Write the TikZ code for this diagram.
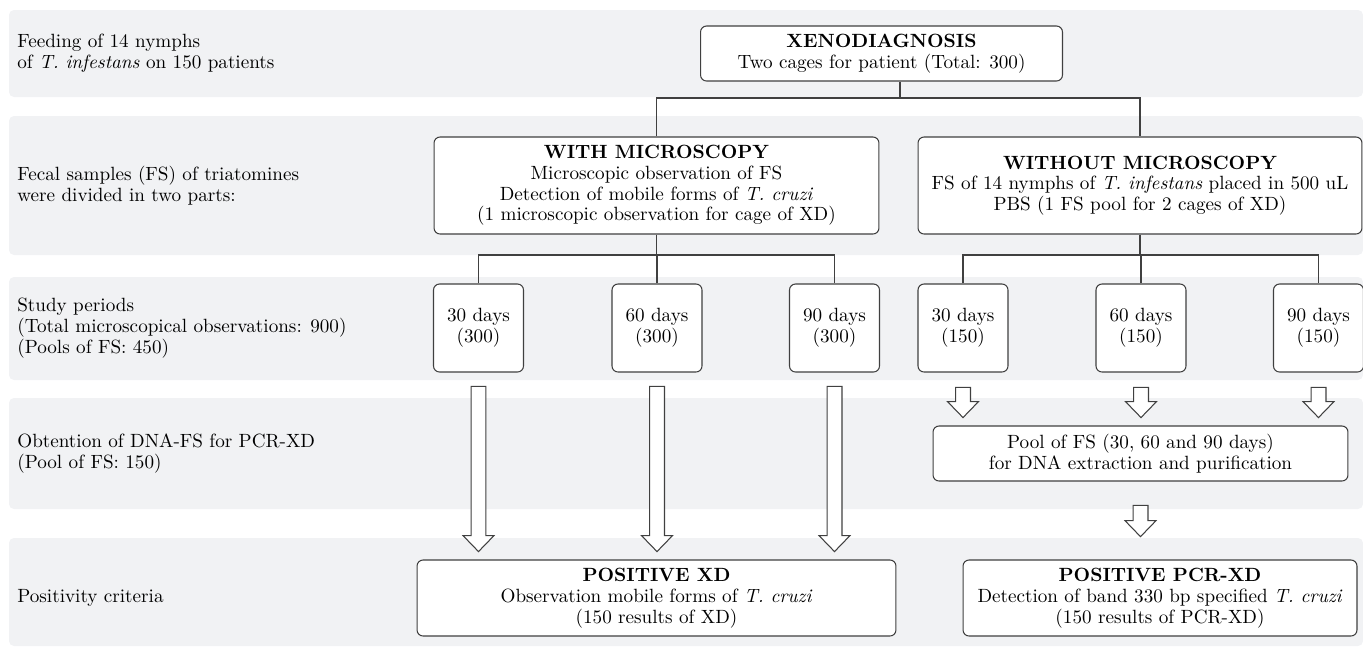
\documentclass[tikz,border=0pt]{standalone}
\usetikzlibrary{calc}
\definecolor{bandgray}{RGB}{241,242,244}
\definecolor{linegray}{RGB}{64,64,64}
\tikzset{
  band/.style={fill=bandgray,rounded corners=0.1cm},
  stage/.style={anchor=west,align=left,inner sep=0pt,font=\fontsize{10.9}{11.8}\selectfont},
  box/.style={draw=linegray,line width=0.6pt,fill=white,rounded corners=0.12cm,
    align=center,inner sep=0pt,font=\fontsize{10.9}{11.8}\selectfont},
  daybox/.style={box,minimum width=1.8cm,minimum height=1.76cm},
  link/.style={draw=linegray,line width=0.6pt},
  hollow/.style 2 args={fill=white,to path={let \p1=(\tikztostart), \p2=(\tikztotarget) in
    (\x1-4.25pt,\y1-#1) -- (\x1-4.25pt,\y2+#2+9.07pt) -- (\x1-8.79pt,\y2+#2+9.07pt)
    -- (\x1,\y2+#2) -- (\x1+8.79pt,\y2+#2+9.07pt) -- (\x1+4.25pt,\y2+#2+9.07pt)
    -- (\x1+4.25pt,\y1-#1) -- cycle}}
}
\begin{document}
\begin{tikzpicture}[x=0.02cm,y=-0.02cm]
\useasboundingbox (0,0) rectangle (1363,654);
% background bands
\fill[band] (9,10) rectangle (1363,97);
\fill[band] (9,116) rectangle (1363,255);
\fill[band] (9,277) rectangle (1363,380);
\fill[band] (9,398) rectangle (1363,509);
\fill[band] (9,538) rectangle (1363,646);
% stage labels
\node[stage] (feed) at (17,53.5) {Feeding of 14 nymphs\\of \textit{T. infestans} on 150 patients};
\node[stage] (fecal) at (17,185.5) {Fecal samples (FS) of triatomines\\were divided in two parts:};
\node[stage] (study) at (17,328) {Study periods\\(Total microscopical observations: 900)\\(Pools of FS: 450)};
\node[stage] (obtain) at (17,453.5) {Obtention of DNA-FS for PCR-XD\\(Pool of FS: 150)};
\node[stage] (crit) at (17,598) {Positivity criteria};
% boxes
\node[box,minimum width=7.24cm,minimum height=1.1cm] (xeno) at (881.5,53.5)
  {\textbf{XENODIAGNOSIS}\\Two cages for patient (Total: 300)};
\node[box,minimum width=8.9cm,minimum height=1.94cm] (with) at (656.5,185.5)
  {\textbf{WITH MICROSCOPY}\\Microscopic observation of FS\\Detection of mobile forms of \textit{T. cruzi}\\(1 microscopic observation for cage of XD)};
\node[box,minimum width=8.88cm,minimum height=1.94cm] (without) at (1140,185.5)
  {\textbf{WITHOUT MICROSCOPY}\\FS of 14 nymphs of \textit{T. infestans} placed in 500 uL\\PBS (1 FS pool for 2 cages of XD)};
\node[daybox] (l30) at (478.5,328) {30 days\\(300)};
\node[daybox] (l60) at (657,328) {60 days\\(300)};
\node[daybox] (l90) at (834.5,328) {90 days\\(300)};
\node[daybox] (r30) at (963,328) {30 days\\(150)};
\node[daybox] (r60) at (1141,328) {60 days\\(150)};
\node[daybox] (r90) at (1318.5,328) {90 days\\(150)};
\node[box,minimum width=8.3cm,minimum height=1.1cm] (pool) at (1140.5,453.5)
  {Pool of FS (30, 60 and 90 days)\\for DNA extraction and purification};
\node[box,minimum width=9.58cm,minimum height=1.52cm] (posxd) at (656.5,598)
  {\textbf{POSITIVE XD}\\Observation mobile forms of \textit{T. cruzi}\\(150 results of XD)};
\node[box,minimum width=7.88cm,minimum height=1.52cm] (pospcr) at (1160,598)
  {\textbf{POSITIVE PCR-XD}\\Detection of band 330 bp specified \textit{T. cruzi}\\(150 results of PCR-XD)};
% tree lines
\coordinate (split) at (900,98);
\coordinate (lsplit) at (656.5,255);
\coordinate (rsplit) at (1140,255);
\draw[link] (xeno.south -| split) -- (split);
\draw[link] (with.north) |- (split) -| (without.north);
\draw[link] (with.south) -- (lsplit);
\draw[link] (l30.north) |- (lsplit) -| (l90.north);
\draw[link] (l60.north) -- (l60.north |- lsplit);
\draw[link] (without.south) -- (rsplit);
\draw[link] (r30.north) |- (rsplit) -| (r90.north);
\draw[link] (r60.north) -- (r60.north |- rsplit);
% hollow arrows
\draw[link,hollow={7.9pt}{4.5pt}] (l30.south) to (posxd.north);
\draw[link,hollow={7.9pt}{4.5pt}] (l60.south) to (posxd.north);
\draw[link,hollow={7.9pt}{4.5pt}] (l90.south) to (posxd.north);
\draw[link,hollow={8.5pt}{4.5pt}] (r30.south) to (pool.north);
\draw[link,hollow={8.5pt}{4.5pt}] (r60.south) to (pool.north);
\draw[link,hollow={8.5pt}{4.5pt}] (r90.south) to (pool.north);
\draw[link,hollow={13.6pt}{13pt}] (pool.south) to (pospcr.north);
\end{tikzpicture}
\end{document}
